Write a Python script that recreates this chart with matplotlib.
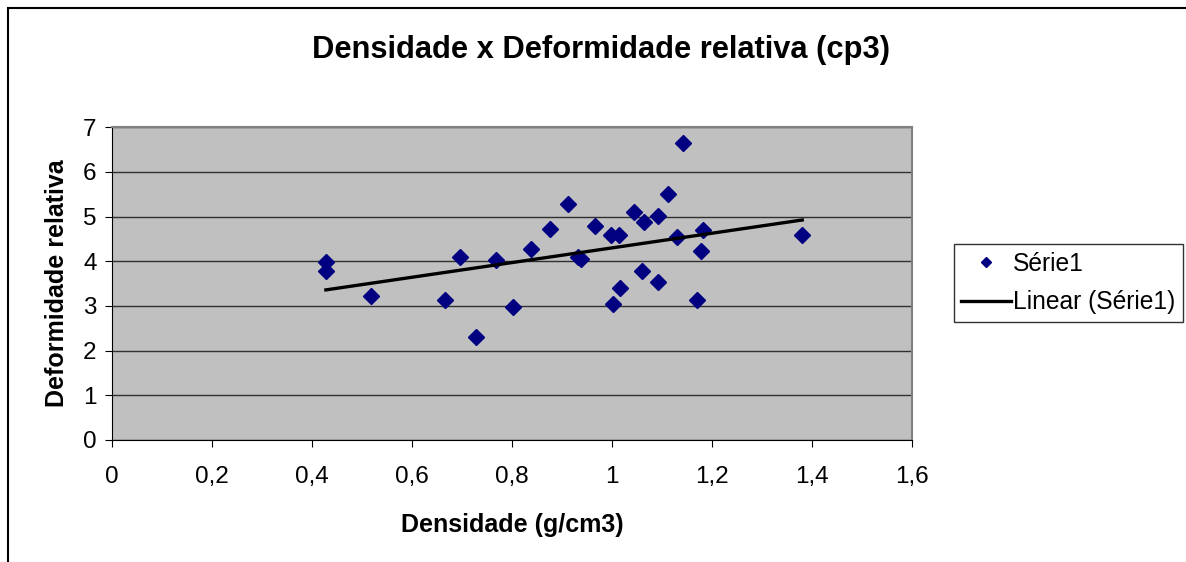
import numpy as np
import matplotlib
matplotlib.use("Agg")
import matplotlib.pyplot as plt
from matplotlib.patches import Rectangle
from matplotlib.ticker import FuncFormatter

# Data
densidade = [0.428, 0.428, 0.518, 0.667, 0.697, 0.729, 0.768, 0.803,
             0.838, 0.877, 0.913, 0.933, 0.939, 0.967, 0.998, 1.003,
             1.015, 1.017, 1.045, 1.065, 1.061, 1.092, 1.092, 1.112,
             1.143, 1.131, 1.183, 1.178, 1.170, 1.381]
deformidade = [3.98, 3.78, 3.23, 3.13, 4.10, 2.31, 4.03, 2.97,
               4.28, 4.72, 5.28, 4.10, 4.05, 4.80, 4.58, 3.05,
               4.58, 3.40, 5.11, 4.89, 3.79, 5.01, 3.53, 5.50,
               6.64, 4.54, 4.69, 4.23, 3.13, 4.58]
x_ticks = [0, 0.2, 0.4, 0.6, 0.8, 1.0, 1.2, 1.4, 1.6]
y_ticks = [0, 1, 2, 3, 4, 5, 6, 7]

plt.rcParams['font.family'] = ['Liberation Sans', 'DejaVu Sans']

fig = plt.figure(figsize=(11.86, 5.62), dpi=100)
ax = fig.add_axes([0.0944, 0.2171, 0.6743, 0.5564])

# outer chart border
fig.patches.append(Rectangle((8 / 1186, -0.1), 1.2, 1 - 8 / 562 + 0.1,
                             transform=fig.transFigure, fill=False,
                             edgecolor='black', linewidth=1.5))

ax.set_facecolor('#C0C0C0')
ax.set_xlim(0, 1.6)
ax.set_ylim(0, 7)
ax.set_xticks(x_ticks)
ax.set_yticks(y_ticks)
ax.xaxis.set_major_formatter(FuncFormatter(lambda v, p: ('%g' % v).replace('.', ',')))
ax.grid(axis='y', color='#303030', linewidth=1)
ax.set_axisbelow(True)
for s in ['top', 'right']:
    ax.spines[s].set_color('#808080')
    ax.spines[s].set_linewidth(1.5)
for s in ['left', 'bottom']:
    ax.spines[s].set_color('black')
ax.tick_params(labelsize=17.5, length=5)
ax.tick_params(axis='x', pad=14)
ax.tick_params(axis='y', pad=6)

x = np.array(densidade)
y = np.array(deformidade)
ax.plot(x, y, 'D', color='#000080', markersize=7.8, label='Série1', zorder=3)
a, b = np.polyfit(x, y, 1)
xs = np.array([x.min(), x.max()])
ax.plot(xs, a * xs + b, color='black', linewidth=2.4, label='Linear (Série1)', zorder=4)

ax.set_xlabel('Densidade (g/cm3)', fontsize=18, fontweight='bold', labelpad=18)
ax.set_ylabel('Deformidade relativa', fontsize=18, fontweight='bold', labelpad=10)
fig.text(0.507, 0.911, 'Densidade x Deformidade relativa (cp3)', ha='center',
         va='center', fontsize=22.2, fontweight='bold')

leg = fig.legend(loc='center left', bbox_to_anchor=(0.8044, 0.4964), fontsize=17.7,
                 frameon=True, fancybox=False, edgecolor='black',
                 handlelength=2.0, handletextpad=0.1, borderpad=0.3,
                 labelspacing=0.6, borderaxespad=0, markerscale=0.6)
leg.get_frame().set_linewidth(1)

fig.savefig('out.png', dpi=100)
